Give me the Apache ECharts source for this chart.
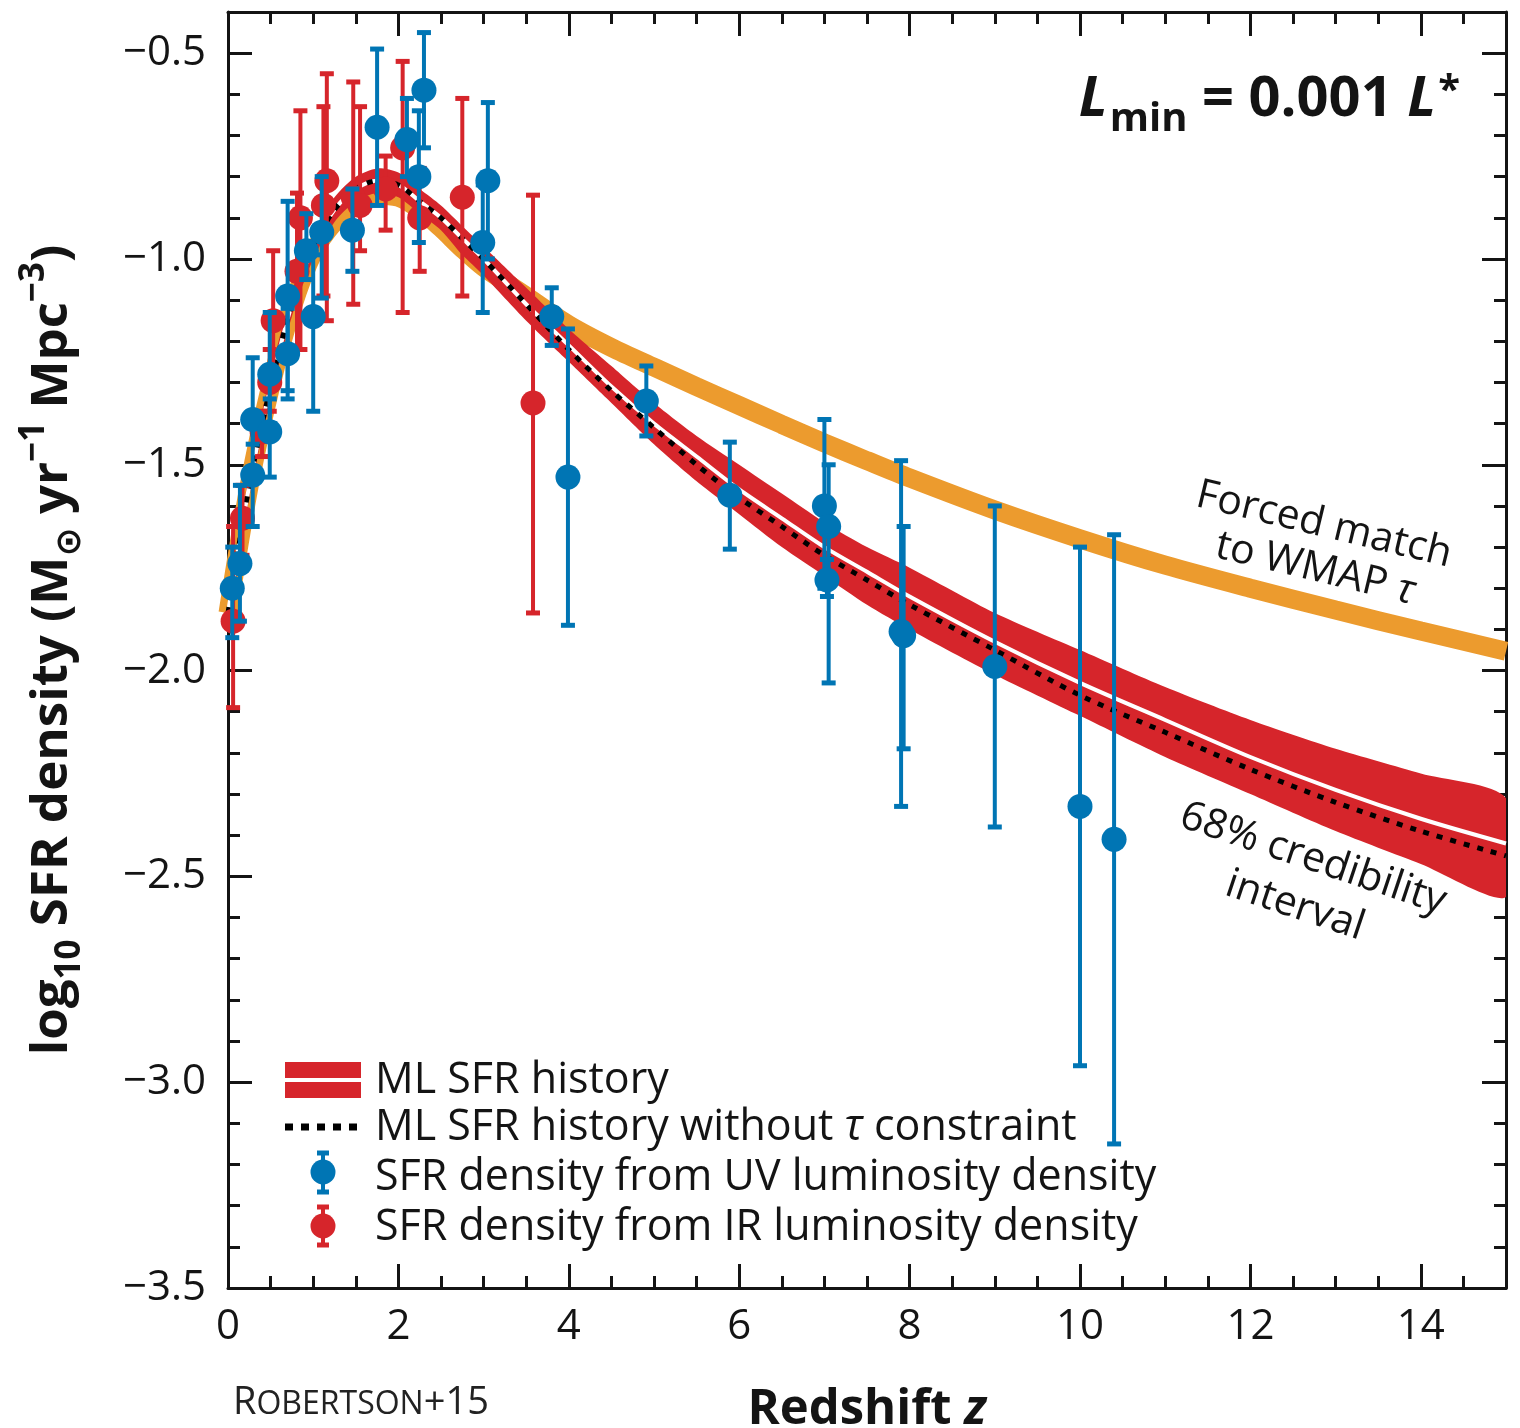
<!DOCTYPE html>
<html><head><meta charset="utf-8">
<script src="https://cdn.jsdelivr.net/npm/echarts@6/dist/echarts.min.js"></script>
<style>html,body{margin:0;padding:0;background:#fff}#chart{width:1520px;height:1428px}</style>
</head><body><div id="chart"></div>
<script>
// ---------------- DATA ----------------
const modelZ    = [0, 0.25, 0.5, 0.75, 1, 1.25, 1.5, 1.75, 2, 2.25, 2.5, 2.75, 3, 3.5, 4, 4.5, 5, 5.5, 6, 6.5, 7, 7.5, 8, 9, 10, 11, 12, 13, 14, 15];
const mlSfr     = [-1.86, -1.55, -1.31, -1.11, -0.97, -0.88, -0.83, -0.81, -0.82, -0.86, -0.90, -0.95, -1.00, -1.11, -1.21, -1.31, -1.40, -1.48, -1.56, -1.63, -1.70, -1.76, -1.82, -1.93, -2.03, -2.12, -2.21, -2.29, -2.36, -2.42];
const bandUpper = [-1.83, -1.52, -1.28, -1.08, -0.94, -0.85, -0.80, -0.78, -0.79, -0.83, -0.87, -0.92, -0.97, -1.07, -1.17, -1.26, -1.35, -1.43, -1.50, -1.57, -1.64, -1.70, -1.75, -1.86, -1.95, -2.04, -2.12, -2.19, -2.25, -2.31];
const bandLower = [-1.89, -1.58, -1.34, -1.14, -1.00, -0.91, -0.86, -0.84, -0.85, -0.89, -0.93, -0.99, -1.04, -1.15, -1.25, -1.35, -1.45, -1.54, -1.62, -1.70, -1.77, -1.84, -1.90, -2.01, -2.11, -2.21, -2.30, -2.39, -2.47, -2.55];
const noTauSfr  = [-1.86, -1.55, -1.31, -1.11, -0.97, -0.88, -0.83, -0.81, -0.82, -0.86, -0.90, -0.95, -1.00, -1.11, -1.22, -1.32, -1.41, -1.50, -1.58, -1.65, -1.72, -1.78, -1.84, -1.95, -2.06, -2.15, -2.24, -2.32, -2.39, -2.45];
const wmapSfr   = [-1.86, -1.55, -1.31, -1.12, -0.985, -0.91, -0.865, -0.845, -0.85, -0.88, -0.925, -0.975, -1.02, -1.09, -1.16, -1.215, -1.263, -1.31, -1.356, -1.402, -1.447, -1.49, -1.532, -1.61, -1.68, -1.744, -1.80, -1.853, -1.904, -1.953];

// UV-based SFR density points
const uvZ   = [0.05, 0.14, 0.29, 0.29, 0.49, 0.49, 0.70, 0.70, 0.92, 1.00, 1.10, 1.46, 1.75, 2.10, 2.24, 2.30, 2.99, 3.05, 3.80, 3.99, 4.91, 5.89, 7.00, 7.05, 7.03, 7.90, 7.93, 9.00, 10.0, 10.4];
const uvVal = [-1.80, -1.74, -1.39, -1.525, -1.42, -1.28, -1.23, -1.09, -0.98, -1.14, -0.935, -0.93, -0.68, -0.71, -0.80, -0.59, -0.96, -0.81, -1.14, -1.53, -1.345, -1.574, -1.60, -1.65, -1.78, -1.905, -1.915, -1.99, -2.33, -2.41];
const uvLo  = [-1.92, -1.88, -1.45, -1.65, -1.53, -1.40, -1.34, -1.32, -1.05, -1.37, -1.095, -1.03, -0.87, -0.80, -0.96, -0.73, -1.13, -1.00, -1.21, -1.89, -1.43, -1.705, -1.80, -2.03, -1.82, -2.33, -2.19, -2.38, -2.96, -3.15];
const uvHi  = [-1.70, -1.55, -1.24, -1.41, -1.34, -1.13, -1.12, -0.86, -0.89, -0.99, -0.80, -0.83, -0.49, -0.61, -0.64, -0.45, -0.82, -0.62, -1.07, -1.17, -1.26, -1.445, -1.39, -1.50, -1.73, -1.49, -1.65, -1.60, -1.70, -1.67];

// IR-based SFR density points
const irZ   = [0.06, 0.17, 0.40, 0.49, 0.53, 0.81, 0.85, 1.12, 1.16, 1.47, 1.55, 1.85, 2.05, 2.25, 2.75, 3.58];
const irVal = [-1.88, -1.63, -1.42, -1.30, -1.15, -1.03, -0.90, -0.87, -0.81, -0.85, -0.87, -0.83, -0.73, -0.90, -0.85, -1.35];
const irLo  = [-2.09, -1.72, -1.48, -1.37, -1.29, -1.22, -1.22, -1.09, -1.15, -1.11, -0.98, -0.93, -1.13, -1.03, -1.09, -1.86];
const irHi  = [-1.65, -1.55, -1.37, -1.22, -0.98, -0.84, -0.64, -0.63, -0.55, -0.57, -0.63, -0.75, -0.52, -0.78, -0.61, -0.845];

const xTicks = [0, 2, 4, 6, 8, 10, 12, 14];
const yTicks = [-3.5, -3.0, -2.5, -2.0, -1.5, -1.0, -0.5];

// ---------------- STYLE ----------------
const RED = '#D6252B', BLUE = '#0075B4', ORANGE = '#EC9B2E', INK = '#141414';
const FONT = "'Open Sans', 'Noto Sans', 'DejaVu Sans', sans-serif";

const zip = (a, b) => a.map((v, i) => [v, b[i]]);

function xAxisDef(pos, major, labels) {
  return {
    type: 'value', min: 0, max: 15, interval: major ? 2 : 0.5, position: pos,
    axisLine: { show: major, onZero: false, lineStyle: { color: INK, width: 3 } },
    axisTick: { show: true, inside: true, length: major ? 24 : 12, lineStyle: { color: INK, width: 3 } },
    axisLabel: {
      show: labels, margin: 18, color: INK, fontFamily: FONT, fontSize: 42,
      formatter: v => (xTicks.indexOf(v) >= 0 ? String(v) : '')
    },
    splitLine: { show: false },
    name: labels ? 'Redshift {i|z}' : '',
    nameLocation: 'middle', nameGap: 98,
    nameTextStyle: {
      fontFamily: FONT, fontSize: 49, fontWeight: 'bold', color: INK,
      rich: { i: { fontFamily: FONT, fontSize: 49, fontWeight: 'bold', fontStyle: 'italic', color: INK } }
    }
  };
}
function yAxisDef(pos, major, labels) {
  return {
    type: 'value', min: -3.5, max: -0.4, interval: major ? 0.5 : 0.1, position: pos,
    axisLine: { show: major, onZero: false, lineStyle: { color: INK, width: 3 } },
    axisTick: { show: true, inside: true, length: major ? 24 : 12, lineStyle: { color: INK, width: 3 } },
    axisLabel: {
      show: labels, margin: 22, color: INK, fontFamily: FONT, fontSize: 42,
      formatter: v => (yTicks.some(t => Math.abs(t - v) < 1e-6) ? '\u2212' + Math.abs(v).toFixed(1) : '')
    },
    splitLine: { show: false },
    name: labels ? '{b|log}{sub|10}{b| SFR density (M}{sub|\u2299}{b| yr}{sup|\u22121}{b| Mpc}{sup|\u22123}{b|)}' : '',
    nameLocation: 'middle', nameRotate: 90, nameGap: 140,
    nameTextStyle: {
      rich: {
        b:   { fontFamily: FONT, fontSize: 51, fontWeight: 'bold', color: INK, verticalAlign: 'top', padding: [10, 0, 0, 0] },
        sub: { fontFamily: FONT, fontSize: 35, fontWeight: 'bold', color: INK, verticalAlign: 'top', padding: [36, 0, 0, 0] },
        sup: { fontFamily: FONT, fontSize: 35, fontWeight: 'bold', color: INK, verticalAlign: 'top', padding: [0, 0, 0, 0] }
      }
    }
  };
}

function errorBarSeries(name, color, zs, lo, hi, z) {
  return {
    name, type: 'custom', xAxisIndex: 0, yAxisIndex: 0, z,
    data: zs.map((v, i) => [v, lo[i], hi[i]]),
    encode: { x: 0, y: [1, 2] },
    renderItem: (params, api) => {
      const x = api.value(0);
      const pLo = api.coord([x, api.value(1)]);
      const pHi = api.coord([x, api.value(2)]);
      const w = 7;
      return {
        type: 'group', children: [
          { type: 'line', shape: { x1: pLo[0], y1: pLo[1], x2: pHi[0], y2: pHi[1] }, style: { stroke: color, lineWidth: 4 } },
          { type: 'line', shape: { x1: pLo[0] - w, y1: pLo[1], x2: pLo[0] + w, y2: pLo[1] }, style: { stroke: color, lineWidth: 5 } },
          { type: 'line', shape: { x1: pHi[0] - w, y1: pHi[1], x2: pHi[0] + w, y2: pHi[1] }, style: { stroke: color, lineWidth: 5 } }
        ]
      };
    }
  };
}

const deg = Math.PI / 180;
const chart = echarts.init(document.getElementById('chart'), null, { renderer: 'canvas' });
const option = {
  animation: false,
  backgroundColor: '#ffffff',
  grid: { left: 228, right: 14, top: 12, bottom: 140, containLabel: false, outerBoundsMode: 'none' },
  xAxis: [xAxisDef('bottom', true, true), xAxisDef('bottom', false, false), xAxisDef('top', true, false), xAxisDef('top', false, false)],
  yAxis: [yAxisDef('left', true, true), yAxisDef('left', false, false), yAxisDef('right', true, false), yAxisDef('right', false, false)],
  series: [
    { name: 'Forced match to WMAP tau', type: 'line', z: 1, data: zip(modelZ, wmapSfr), smooth: 0.3, showSymbol: false,
      lineStyle: { color: ORANGE, width: 19 }, silent: true },
    { name: '68% credibility interval', type: 'custom', z: 2, clip: true, data: [[0]],
      renderItem: (params, api) => {
        const pts = [];
        for (let i = 0; i < modelZ.length; i++) pts.push(api.coord([modelZ[i], bandUpper[i]]));
        for (let i = modelZ.length - 1; i >= 0; i--) pts.push(api.coord([modelZ[i], bandLower[i]]));
        return { type: 'polygon', shape: { points: pts, smooth: 0.25 }, style: { fill: RED } };
      } },
    { name: 'ML SFR history', type: 'line', z: 3, data: zip(modelZ, mlSfr), smooth: 0.3, showSymbol: false,
      lineStyle: { color: '#ffffff', width: 4 }, silent: true },
    { name: 'ML SFR history without tau constraint', type: 'line', z: 4, data: zip(modelZ, noTauSfr), smooth: 0.3, showSymbol: false,
      lineStyle: { color: '#000000', width: 5, type: [6, 8] }, silent: true },
    errorBarSeries('IR bars', RED, irZ, irLo, irHi, 5),
    { name: 'SFR density from IR luminosity density', type: 'scatter', z: 6, data: zip(irZ, irVal), symbol: 'circle', symbolSize: 25,
      itemStyle: { color: RED, opacity: 1 } },
    errorBarSeries('UV bars', BLUE, uvZ, uvLo, uvHi, 7),
    { name: 'SFR density from UV luminosity density', type: 'scatter', z: 8, data: zip(uvZ, uvVal), symbol: 'circle', symbolSize: 25,
      itemStyle: { color: BLUE, opacity: 1 } }
  ],
  graphic: [
    // top-right annotation
    { type: 'text', x: 1460, y: 72, z: 100, style: {
      text: '{li|L}{sub|min}{b| = 0.001 }{li|L}{sup|*}', align: 'right', verticalAlign: 'top',
      rich: {
        b:   { fontFamily: FONT, fontSize: 56, fontWeight: 'bold', fill: INK, verticalAlign: 'top', padding: [0, 0, 0, 0] },
        li:  { fontFamily: FONT, fontSize: 56, fontWeight: 'bold', fontStyle: 'italic', fill: INK, verticalAlign: 'top', padding: [0, 0, 0, 0] },
        sub: { fontFamily: FONT, fontSize: 40, fontWeight: 'bold', fill: INK, verticalAlign: 'top', padding: [28, 0, 0, 2] },
        sup: { fontFamily: FONT, fontSize: 40, fontWeight: 'bold', fill: INK, verticalAlign: 'top', padding: [0, 0, 0, 2] }
      } } },
    // curve annotations
    { type: 'text', x: 1324, y: 525, rotation: -13.5 * deg, z: 100, style: {
      text: 'Forced match', fontFamily: FONT, fontSize: 41, fill: INK, align: 'center', verticalAlign: 'middle' } },
    { type: 'text', x: 1315, y: 569, rotation: -13.5 * deg, z: 100, style: {
      text: 'to WMAP {i|\u03c4}', fontFamily: FONT, fontSize: 41, fill: INK, align: 'center', verticalAlign: 'middle',
      rich: { i: { fontFamily: FONT, fontSize: 41, fontStyle: 'italic', fill: INK } } } },
    { type: 'text', x: 1313, y: 859, rotation: -18.5 * deg, z: 100, style: {
      text: '68% credibility', fontFamily: FONT, fontSize: 41, fill: INK, align: 'center', verticalAlign: 'middle' } },
    { type: 'text', x: 1295, y: 906, rotation: -18.5 * deg, z: 100, style: {
      text: 'interval', fontFamily: FONT, fontSize: 41, fill: INK, align: 'center', verticalAlign: 'middle' } },
    // legend
    { type: 'rect', shape: { x: 285, y: 1062, width: 76, height: 36 }, style: { fill: RED }, z: 100 },
    { type: 'rect', shape: { x: 285, y: 1078, width: 76, height: 4 }, style: { fill: '#ffffff' }, z: 101 },
    { type: 'line', shape: { x1: 285, y1: 1127, x2: 362, y2: 1127 }, style: { stroke: '#000', lineWidth: 7, lineDash: [8, 8] }, z: 100 },
    { type: 'line', shape: { x1: 323, y1: 1153, x2: 323, y2: 1192 }, style: { stroke: BLUE, lineWidth: 4 }, z: 100 },
    { type: 'line', shape: { x1: 317, y1: 1153, x2: 329, y2: 1153 }, style: { stroke: BLUE, lineWidth: 5 }, z: 100 },
    { type: 'line', shape: { x1: 317, y1: 1192, x2: 329, y2: 1192 }, style: { stroke: BLUE, lineWidth: 5 }, z: 100 },
    { type: 'circle', shape: { cx: 323, cy: 1172, r: 12.5 }, style: { fill: BLUE }, z: 101 },
    { type: 'line', shape: { x1: 323, y1: 1207, x2: 323, y2: 1245 }, style: { stroke: RED, lineWidth: 4 }, z: 100 },
    { type: 'line', shape: { x1: 317, y1: 1207, x2: 329, y2: 1207 }, style: { stroke: RED, lineWidth: 5 }, z: 100 },
    { type: 'line', shape: { x1: 317, y1: 1245, x2: 329, y2: 1245 }, style: { stroke: RED, lineWidth: 5 }, z: 100 },
    { type: 'circle', shape: { cx: 323, cy: 1226, r: 12.5 }, style: { fill: RED }, z: 101 },
    { type: 'text', x: 375, y: 1081, z: 100, style: { text: 'ML SFR history', fontFamily: FONT, fontSize: 43, fill: INK, verticalAlign: 'middle' } },
    { type: 'text', x: 375, y: 1128, z: 100, style: { text: 'ML SFR history without {i|\u03c4} constraint', fontFamily: FONT, fontSize: 43, fill: INK, verticalAlign: 'middle',
      rich: { i: { fontFamily: FONT, fontSize: 43, fontStyle: 'italic', fill: INK } } } },
    { type: 'text', x: 375, y: 1178, z: 100, style: { text: 'SFR density from UV luminosity density', fontFamily: FONT, fontSize: 43, fill: INK, verticalAlign: 'middle' } },
    { type: 'text', x: 375, y: 1228, z: 100, style: { text: 'SFR density from IR luminosity density', fontFamily: FONT, fontSize: 43, fill: INK, verticalAlign: 'middle' } },
    // credit
    { type: 'text', x: 233, y: 1422, z: 100, style: {
      text: '{a|R}{s|OBERTSON}{a|+15}', align: 'left', verticalAlign: 'bottom',
      rich: {
        a: { fontFamily: FONT, fontSize: 38, fill: '#222', verticalAlign: 'bottom' },
        s: { fontFamily: FONT, fontSize: 32, fill: '#222', verticalAlign: 'bottom', padding: [0, 0, 1, 0] }
      } } }
  ]
};
chart.setOption(option);
</script>
</body></html>
